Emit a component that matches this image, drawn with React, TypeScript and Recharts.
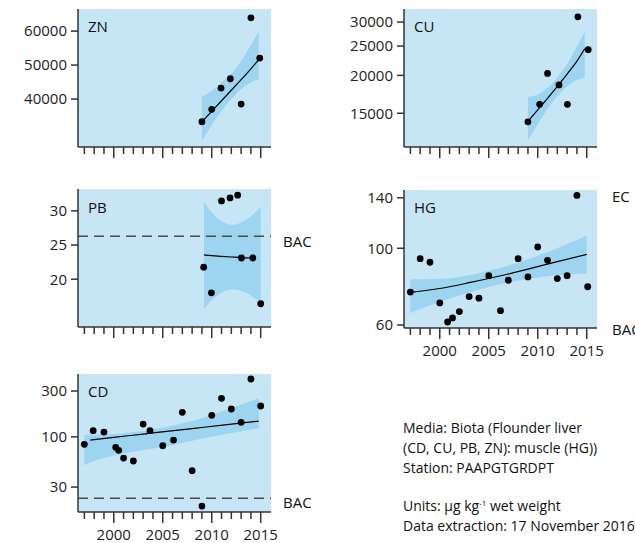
import React from 'react';
import { ComposedChart, XAxis, YAxis, Scatter, Line, Area, CartesianGrid, ReferenceLine } from 'recharts';

// ---------- data ----------
const YEARS = [1997, 1998, 1999, 2000, 2001, 2002, 2003, 2004, 2005, 2006, 2007, 2008, 2009, 2010, 2011, 2012, 2013, 2014, 2015];

// ZN
const znYears = [2009.0, 2010.0, 2010.95, 2011.9, 2013.0, 2014.0, 2014.9];
const znValues = [33330, 36970, 43240, 45980, 38530, 63910, 52060];
const znFitYears = [2009, 2010, 2011, 2012, 2013, 2014, 2014.8];
const znFit = [33300, 36400, 39500, 42600, 45700, 48900, 51600];
const znUpper = [40700, 42400, 44800, 47500, 51200, 55900, 59800];
const znLower = [27700, 32400, 36500, 40000, 42900, 44900, 45900];
const znTicks = [40000, 50000, 60000];

// CU
const cuYears = [2009.0, 2010.2, 2011.0, 2012.17, 2013.03, 2014.1, 2015.15];
const cuValues = [14060, 16050, 20300, 18600, 16050, 31200, 24300];
const cuFitYears = [2009, 2010, 2011, 2012, 2013, 2014, 2014.8];
const cuFit = [14100, 15400, 16800, 18400, 20200, 22300, 24500];
const cuUpper = [17000, 17300, 18200, 19700, 21800, 24900, 27900];
const cuLower = [12200, 13800, 15500, 17100, 18400, 19300, 19700];
const cuTicks = [15000, 20000, 25000, 30000];

// PB
const pbYears = [2009.18, 2009.97, 2011.0, 2011.87, 2012.65, 2013.03, 2014.2, 2015.0];
const pbValues = [21.75, 18.0, 31.46, 31.9, 32.3, 23.1, 23.1, 16.4];
const pbFitYears = [2009.2, 2010, 2011, 2012, 2013, 2014, 2014.2, 2015];
const pbFit = [23.55, 23.45, 23.35, 23.25, 23.15, 23.1, 23.1, null];
const pbUpper = [31.35, 29.8, 28.5, 27.96, 28.3, 29.2, 29.45, 30.6];
const pbLower = [15.6, 16.9, 18.0, 18.5, 18.3, 17.6, 17.4, 16.6];
const pbTicks = [20, 25, 30];
const pbBAC = 26.3;

// HG
const hgYears = [1997, 1998, 1999, 2000, 2000.8, 2001.3, 2002, 2003, 2004, 2005, 2006.2, 2007, 2008, 2009, 2010, 2011, 2012, 2013, 2014, 2015.1];
const hgValues = [74.7, 93.3, 91.1, 69.5, 61.2, 62.9, 65.6, 72.5, 71.7, 83.3, 66.0, 80.8, 93.3, 82.6, 100.9, 92.3, 81.7, 83.3, 142.2, 77.4];
const hgFitYears = [1997, 2000, 2003, 2006, 2009, 2012, 2015];
const hgFit = [74.5, 76.5, 79.5, 83, 87, 91.5, 96];
const hgUpper = [81.3, 81.5, 83.5, 87.5, 93, 100, 108.6];
const hgLower = [65, 70, 74.5, 78.5, 81.5, 83.5, 84.5];
const hgTicks = [60, 100, 140];

// CD
const cdYears = [1997, 1997.9, 1999, 2000.2, 2000.5, 2001, 2002, 2003, 2003.7, 2005, 2006.1, 2007, 2008, 2009, 2010, 2011, 2012, 2013, 2014, 2015];
const cdValues = [83.6, 115.9, 112.2, 77.7, 72.3, 60.1, 56.0, 135.9, 115.9, 80.8, 92.6, 180, 44.4, 19.0, 167.3, 251.7, 194.8, 141.5, 400, 209.5];
const cdFitYears = [1997, 1997.6, 2000, 2003, 2005.4, 2008, 2010.9, 2014.8];
const cdFit = [null, 92.6, 98.6, 106.9, 113.8, 122, 131.7, 146];
const cdUpper = [104.8, 105, 107, 115, 127.4, 146, 182.6, 252];
const cdLower = [50.5, 54, 64, 73, 80, 91, 104.5, 122.6];
const cdTicks = [30, 100, 300];
const cdBAC = 23;

// ---------- helpers ----------
const toRows = (years: number[], fit: (number | null)[], lo: number[], hi: number[]) =>
  years.map((y, i) => ({ year: y, fit: fit[i], band: [lo[i], hi[i]] }));
const toPts = (years: number[], vals: number[]) => years.map((y, i) => ({ year: y, v: vals[i] }));

const X_DOMAIN = [1996.35, 2016.05];
const BG = '#c6e6f6';
const BAND = '#9dd5f1';
const AXIS = '#333';
const FONT = '"Open Sans", sans-serif';
const PLOT_W = 193;
const PLOT_H = 138;
const AXIS_W = 70;
const M_TOP = 5;
const M_RIGHT = 25;
const X_H = 35;

const XTick = (props: any) => {
  const { x, y, payload, show } = props;
  const major = payload.value % 5 === 0;
  return (
    <g>
      <line x1={x} x2={x} y1={y} y2={y + (major ? 11 : 7)} stroke={AXIS} strokeWidth={1.5} />
      {show && major ? (
        <text x={x} y={y + 28} textAnchor="middle" fontSize={15} fill="#222" fontFamily={FONT}>
          {payload.value}
        </text>
      ) : null}
    </g>
  );
};

const Dot = (props: any) => <circle cx={props.cx} cy={props.cy} r={3.4} fill="#000" />;

type PanelProps = {
  px: number;
  py: number;
  rows: any[];
  pts: any[];
  yDomain: number[];
  yTicks: number[];
  log: boolean;
  showYears: boolean;
  refY?: number;
};

function Panel({ px, py, rows, pts, yDomain, yTicks, log, showYears, refY }: PanelProps) {
  return (
    <div style={{ position: 'absolute', left: px - AXIS_W, top: py - M_TOP }}>
      <ComposedChart
        width={AXIS_W + PLOT_W + M_RIGHT}
        height={M_TOP + PLOT_H + X_H}
        data={rows}
        margin={{ top: M_TOP, right: M_RIGHT, bottom: 0, left: 0 }}
      >
        <CartesianGrid fill={BG} stroke="none" fillOpacity={1} />
        <XAxis
          dataKey="year"
          type="number"
          domain={X_DOMAIN}
          ticks={YEARS}
          allowDataOverflow
          interval={0}
          height={X_H}
          tickSize={0}
          tickMargin={0}
          tickLine={false}
          axisLine={{ stroke: AXIS, strokeWidth: 1.5 }}
          tick={(p: any) => <XTick {...p} show={showYears} />}
        />
        <YAxis
          type="number"
          scale={log ? 'log' : 'linear'}
          domain={yDomain}
          ticks={yTicks}
          allowDataOverflow
          interval={0}
          width={AXIS_W}
          tickSize={7}
          tickMargin={4}
          axisLine={{ stroke: AXIS, strokeWidth: 1.5 }}
          tickLine={{ stroke: AXIS, strokeWidth: 1.5 }}
          tick={{ fontSize: 15, fill: '#222', fontFamily: FONT }}
        />
        <Area dataKey="band" type="monotone" fill={BAND} fillOpacity={1} stroke="none" isAnimationActive={false} />
        <Line dataKey="fit" type="monotone" stroke="#000" strokeWidth={1.2} dot={false} isAnimationActive={false} />
        {refY !== undefined ? (
          <ReferenceLine y={refY} stroke="#4a4a4a" strokeWidth={1.5} strokeDasharray="10 6" />
        ) : null}
        <Scatter data={pts} dataKey="v" shape={Dot} isAnimationActive={false} />
      </ComposedChart>
    </div>
  );
}

const Txt = ({ left, cy, children, size = 15 }: any) => (
  <div
    style={{
      position: 'absolute',
      left,
      top: cy - 10,
      lineHeight: '20px',
      fontSize: size,
      color: '#111',
      whiteSpace: 'nowrap',
    }}
  >
    {children}
  </div>
);

export default function App() {
  return (
    <div
      style={{
        position: 'absolute',
        left: 0,
        top: 0,
        width: 635,
        height: 543,
        overflow: 'hidden',
        background: '#fff',
        fontFamily: FONT,
      }}
    >
      <Panel px={78} py={9} rows={toRows(znFitYears, znFit, znLower, znUpper)} pts={toPts(znYears, znValues)} yDomain={[25900, 66500]} yTicks={znTicks} log={false} showYears={false} />
      <Panel px={404} py={9} rows={toRows(cuFitYears, cuFit, cuLower, cuUpper)} pts={toPts(cuYears, cuValues)} yDomain={[11610, 33120]} yTicks={cuTicks} log={true} showYears={false} />
      <Panel px={78} py={189} rows={toRows(pbFitYears, pbFit, pbLower, pbUpper)} pts={toPts(pbYears, pbValues)} yDomain={[13.0, 33.2]} yTicks={pbTicks} log={false} showYears={false} refY={pbBAC} />
      <Panel px={404} py={190} rows={toRows(hgFitYears, hgFit, hgLower, hgUpper)} pts={toPts(hgYears, hgValues)} yDomain={[58.8, 147.4]} yTicks={hgTicks} log={true} showYears={true} />
      <Panel px={78} py={374} rows={toRows(cdFitYears, cdFit, cdLower, cdUpper)} pts={toPts(cdYears, cdValues)} yDomain={[16.5, 451]} yTicks={cdTicks} log={true} showYears={true} refY={cdBAC} />

      <Txt left={88} cy={26}>ZN</Txt>
      <Txt left={414} cy={26}>CU</Txt>
      <Txt left={88} cy={207}>PB</Txt>
      <Txt left={414} cy={207}>HG</Txt>
      <Txt left={88} cy={391}>CD</Txt>

      <Txt left={283} cy={241}>BAC</Txt>
      <Txt left={283} cy={502}>BAC</Txt>
      <Txt left={612} cy={196}>EC</Txt>
      <Txt left={612} cy={329}>BAC</Txt>

      <div style={{ position: 'absolute', left: 403, top: 418, fontSize: 14, lineHeight: '20px', color: '#111', whiteSpace: 'nowrap' }}>
        <div>Media: Biota (Flounder liver</div>
        <div>(CD, CU, PB, ZN): muscle (HG))</div>
        <div>Station: PAAPGTGRDPT</div>
      </div>
      <div style={{ position: 'absolute', left: 403, top: 496, fontSize: 14, lineHeight: '20px', color: '#111', whiteSpace: 'nowrap' }}>
        <div>
          Units: µg kg<sup style={{ fontSize: 8, verticalAlign: 'top', lineHeight: '14px' }}>-1</sup> wet weight
        </div>
        <div>Data extraction: 17 November 2016</div>
      </div>
    </div>
  );
}
